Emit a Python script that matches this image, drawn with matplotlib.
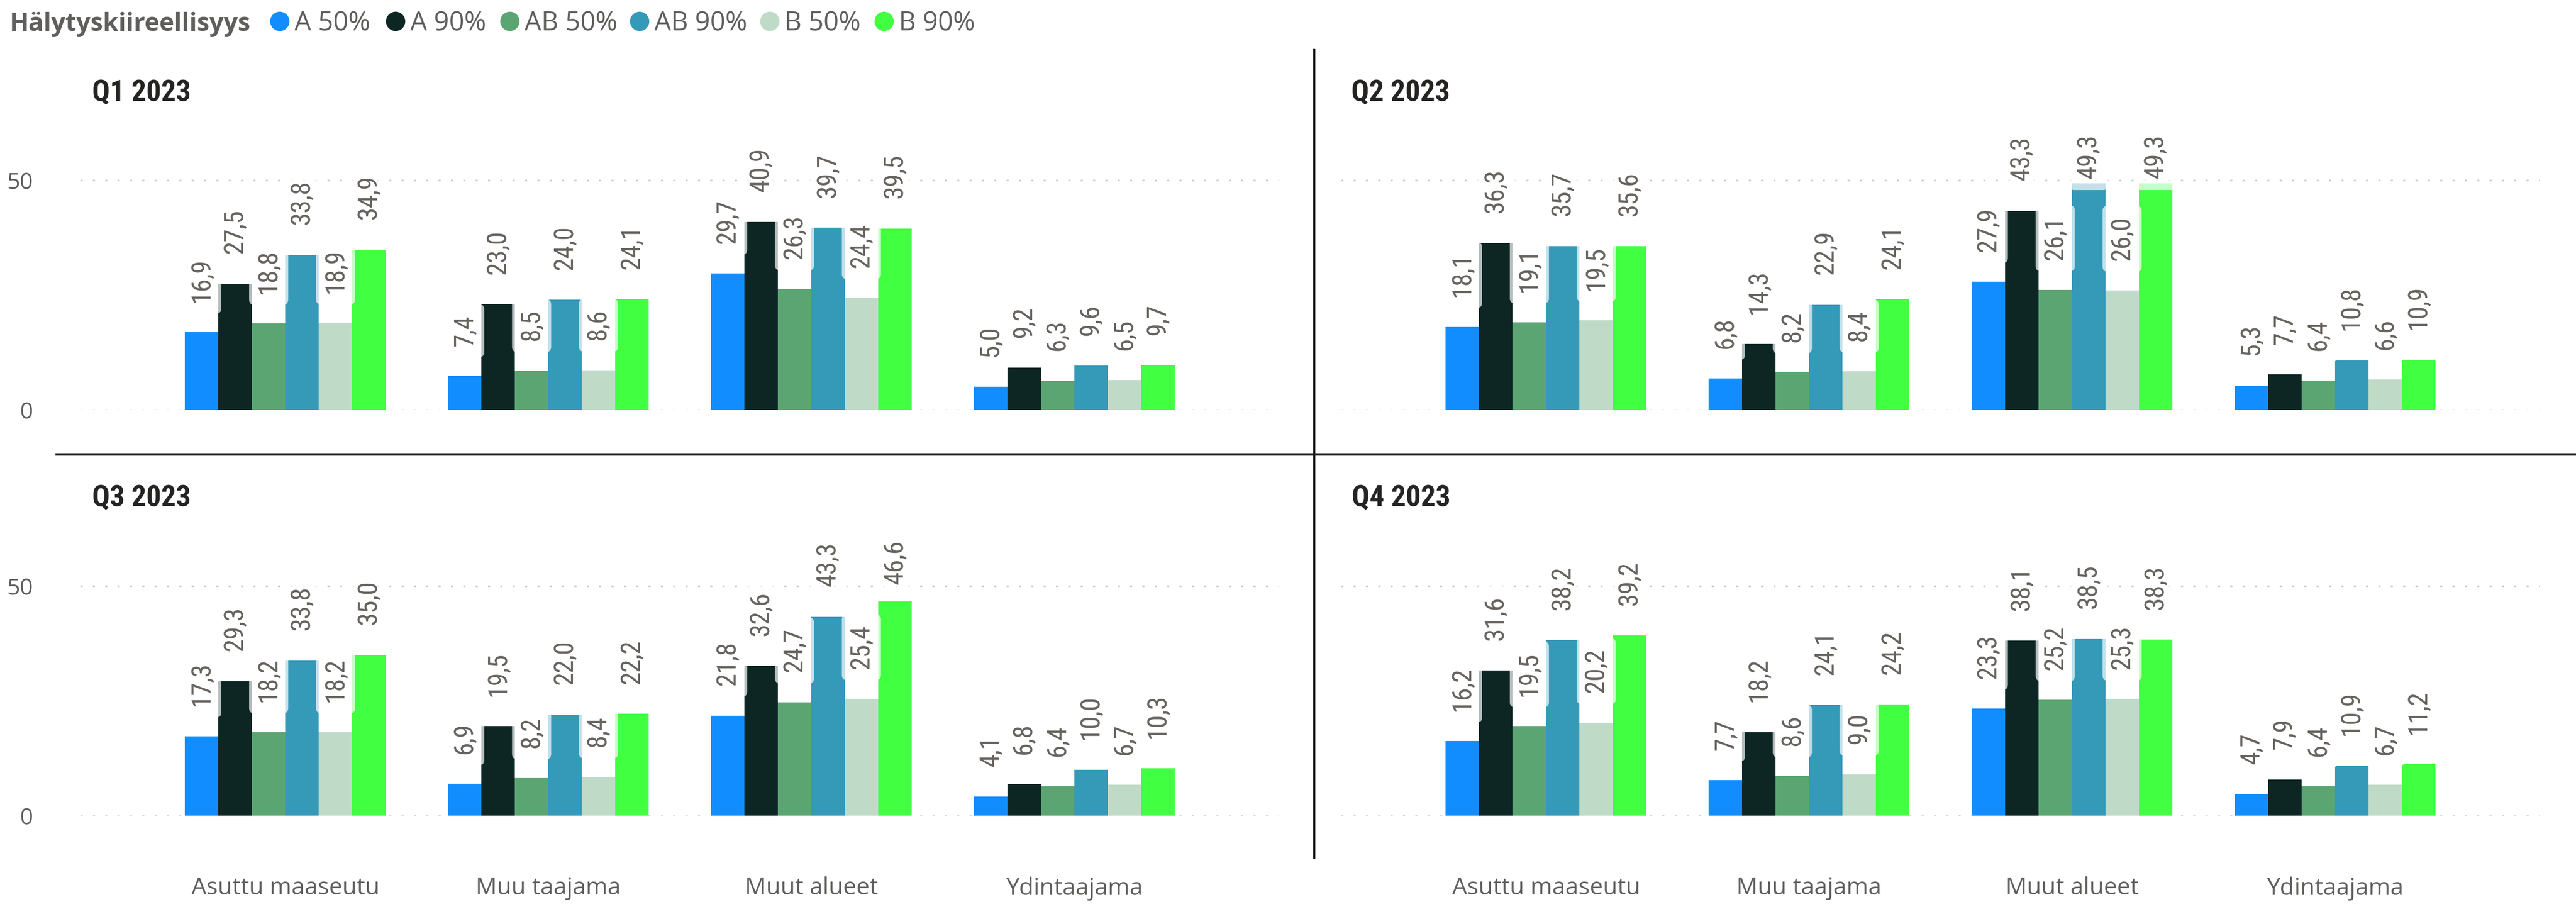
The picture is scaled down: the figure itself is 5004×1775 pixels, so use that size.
import numpy as np
import matplotlib.pyplot as plt
from matplotlib.patches import FancyBboxPatch
from matplotlib.transforms import IdentityTransform

# ------------------------------------------------ data ------------------------------------------------

categories = ['Asuttu maaseutu', 'Muu taajama', 'Muut alueet', 'Ydintaajama']
series = ['A 50%', 'A 90%', 'AB 50%', 'AB 90%', 'B 50%', 'B 90%']
colors = ['#118DFF', '#0D2624', '#5BA573', '#3599B8', '#BFDBC8', '#41FF41']
quarters = ['Q1 2023', 'Q2 2023', 'Q3 2023', 'Q4 2023']
legend_title = 'Hälytyskiireellisyys'

# one row per category, one column per series
q1_values = [[16.9, 27.5, 18.8, 33.8, 18.9, 34.9],
             [7.4, 23.0, 8.5, 24.0, 8.6, 24.1],
             [29.7, 40.9, 26.3, 39.7, 24.4, 39.5],
             [5.0, 9.2, 6.3, 9.6, 6.5, 9.7]]
q2_values = [[18.1, 36.3, 19.1, 35.7, 19.5, 35.6],
             [6.8, 14.3, 8.2, 22.9, 8.4, 24.1],
             [27.9, 43.3, 26.1, 49.3, 26.0, 49.3],
             [5.3, 7.7, 6.4, 10.8, 6.6, 10.9]]
q3_values = [[17.3, 29.3, 18.2, 33.8, 18.2, 35.0],
             [6.9, 19.5, 8.2, 22.0, 8.4, 22.2],
             [21.8, 32.6, 24.7, 43.3, 25.4, 46.6],
             [4.1, 6.8, 6.4, 10.0, 6.7, 10.3]]
q4_values = [[16.2, 31.6, 19.5, 38.2, 20.2, 39.2],
             [7.7, 18.2, 8.6, 24.1, 9.0, 24.2],
             [23.3, 38.1, 25.2, 38.5, 25.3, 38.3],
             [4.7, 7.9, 6.4, 10.9, 6.7, 11.2]]

y_ticks = [0, 50]

# ------------------------------------------------ style ------------------------------------------------

W, H = 5004, 1775
DPI = 100
narrow = ['Liberation Sans Narrow', 'Roboto Condensed', 'Roboto', 'DejaVu Sans']
plt.rcParams['font.family'] = ['Open Sans', 'DejaVu Sans']
gray = '#605E5C'
label_gray = '#66625E'
LABEL_OFFSET = 42  # points above the bar top

fig = plt.figure(figsize=(W / DPI, H / DPI), dpi=DPI)
fig.patch.set_facecolor('white')

# overlay in pixel coordinates for titles, legend and separators
ov = fig.add_axes([0, 0, 1, 1])
ov.set_xlim(0, W)
ov.set_ylim(H, 0)
ov.axis('off')


def px_axes(x0, x1, y_top, y_bottom):
    return fig.add_axes([x0 / W, 1 - y_bottom / H, (x1 - x0) / W, (y_bottom - y_top) / H])


panel_boxes = [(156, 2485, 260.8, 796), (2605, 4934, 260.8, 796),
               (156, 2485, 1048.8, 1584), (2605, 4934, 1048.8, 1584)]
title_pos = [(179, 180), (2625, 180), (179, 967), (2626, 967)]
all_values = [q1_values, q2_values, q3_values, q4_values]

bar_w = 0.1272
x = np.arange(len(categories))
annotations = []

for k, (vals, box) in enumerate(zip(all_values, panel_boxes)):
    ax = px_axes(*box)
    ax.set_facecolor('none')
    vals = np.array(vals)
    for j, s in enumerate(series):
        xs = x + (j - 2.5) * bar_w
        ax.bar(xs, vals[:, j], width=bar_w, color=colors[j], linewidth=0, zorder=2)
        for xi, v in zip(xs, vals[:, j]):
            a = ax.annotate(f'{v:.1f}'.replace('.', ','), xy=(xi, v), xytext=(0, LABEL_OFFSET),
                            textcoords='offset points', rotation=90, ha='center', va='bottom',
                            fontsize=37, color=label_gray, family=narrow, zorder=4)
            annotations.append((ax, a))

    ax.set_xlim(-0.78, 3.78)
    ax.set_ylim(0, 60)
    for sp in ax.spines.values():
        sp.set_visible(False)
    ax.set_yticks(y_ticks)
    ax.grid(axis='y', color='#C8C6C4', linewidth=2.2, linestyle=(0, (1.3, 6.55)))
    ax.set_axisbelow(True)
    ax.tick_params(axis='both', length=0, labelsize=32, labelcolor=gray)
    if k % 2 == 0:
        ax.set_yticklabels([str(t) for t in y_ticks])
        ax.tick_params(axis='y', pad=66)
    else:
        ax.set_yticklabels([])
    if k >= 2:
        ax.set_xticks(x)
        ax.set_xticklabels(categories, fontsize=33)
        ax.tick_params(axis='x', pad=85)
    else:
        ax.set_xticks([])

    tx, ty = title_pos[k]
    ov.text(tx, ty, quarters[k], ha='left', va='center', fontsize=41, fontweight='bold',
            color='#252423', family=narrow)

# separators
ov.plot([107, W], [882, 882], color='#1A1A1A', linewidth=3.3, solid_capstyle='butt')
ov.plot([2553, 2553], [95, 1668], color='#1A1A1A', linewidth=3.0, solid_capstyle='butt')

# legend
ov.text(19, 60, legend_title, ha='left', va='baseline', fontsize=35, fontweight='bold', color=gray)
legend_x = [543, 768, 990, 1242, 1495, 1717]
for lx, s, c in zip(legend_x, series, colors):
    ov.plot([lx], [41], marker='o', markersize=27, color=c, markeredgewidth=0)
    ov.text(lx + 29, 60, s, ha='left', va='baseline', fontsize=37, color=gray)

# keep labels inside the plot area, as the original does
fig.canvas.draw()
renderer = fig.canvas.get_renderer()
for ax, a in annotations:
    top_limit = ax.get_window_extent(renderer).y1
    ext = a.get_window_extent(renderer)
    if ext.y1 > top_limit:
        over_pt = (ext.y1 - top_limit) * 72 / DPI
        a.xyann = (0, LABEL_OFFSET - over_pt)

# translucent label backgrounds (they overlap the neighbouring bars a little)
fig.canvas.draw()
for ax, a in annotations:
    ext = a.get_window_extent(renderer)
    cx = (ext.x0 + ext.x1) / 2
    bg = FancyBboxPatch((cx - 28, ext.y0 - 12), 56, ext.height + 22,
                        boxstyle='round,pad=10,rounding_size=10', transform=IdentityTransform(),
                        fc='white', ec='none', alpha=0.7, zorder=3, clip_on=False)
    ax.add_patch(bg)

fig.savefig('out.png', dpi=DPI, facecolor='white')
